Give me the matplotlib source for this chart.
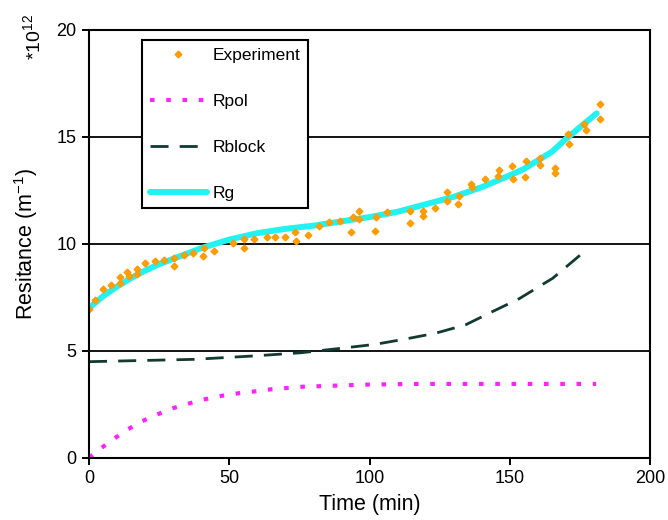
import matplotlib
matplotlib.use("Agg")
import matplotlib.pyplot as plt

plt.rcParams["font.family"] = ["Liberation Sans", "DejaVu Sans"]
plt.rcParams["mathtext.fontset"] = "custom"
plt.rcParams["mathtext.rm"] = "Liberation Sans"
plt.rcParams["mathtext.it"] = "Liberation Sans:italic"

# ---- measured resistance (Experiment) ----
exp_t = [0, 2.2, 5.0, 8.0, 11.0, 11.0, 13.7, 14.3, 17.1, 17.1, 20.0, 23.5, 26.9,
         30.2, 30.2, 34.0, 37.0, 40.6, 40.9, 44.5, 51.3, 55.3, 55.3, 58.8,
         63.4, 66.2, 69.8, 73.8, 73.4, 77.9, 81.9, 85.7, 89.6, 93.4, 94.1,
         96.4, 96.1, 101.8, 102.4, 106.3, 114.3, 114.3, 118.9, 119.2,
         123.3, 127.5, 127.5, 131.9, 131.6, 136.2, 136.4, 141.2, 146.0, 145.7,
         150.7, 151.1, 155.7, 155.5, 160.9, 160.9, 166.2, 166.0, 170.7, 171.0,
         176.6, 177.2, 182.0, 182.0]
exp_r = [6.95, 7.38, 7.88, 8.08, 8.44, 8.19, 8.70, 8.51, 8.83, 8.59, 9.12, 9.21, 9.25,
         8.97, 9.36, 9.48, 9.56, 9.45, 9.79, 9.68, 10.03, 9.79, 10.21, 10.21,
         10.31, 10.31, 10.31, 10.15, 10.54, 10.42, 10.84, 11.01, 11.09, 10.54, 11.24,
         11.55, 11.16, 10.62, 11.24, 11.51, 10.96, 11.55, 11.55, 11.31,
         11.66, 12.44, 12.00, 12.24, 11.87, 12.79, 12.65, 13.02, 13.46, 13.19,
         13.64, 13.02, 13.88, 13.11, 14.03, 13.69, 13.53, 13.33, 15.13, 14.66,
         15.59, 15.33, 16.54, 15.84]

# ---- polarisation resistance ----
pol_t = [0, 6.6, 12.5, 18.5, 23.9, 29.8, 35.8, 41.2, 47.1, 53.1, 59.1, 65.0,
         76.4, 99.6, 117.5, 180.8]
pol_r = [0, 0.67, 1.22, 1.68, 2.00, 2.31, 2.54, 2.73, 2.89, 3.01, 3.10, 3.20,
         3.32, 3.42, 3.45, 3.45]

# ---- pore blocking resistance ----
block_t = [0, 37.6, 59.0, 75.8, 90.1, 102.0, 112.8, 123.5, 134.2, 143.8,
           153.3, 165.3, 176.6]
block_r = [4.49, 4.60, 4.76, 4.91, 5.12, 5.30, 5.55, 5.82, 6.21, 6.83,
           7.43, 8.39, 9.64]

# ---- global resistance (model) ----
rg_t = [0, 5, 10, 15, 20, 25, 30, 35, 40, 45, 50, 55, 60, 70, 80, 90, 100,
        110, 120, 130, 140, 150, 155, 160, 165, 170, 175, 181]
rg_r = [7.0, 7.55, 8.0, 8.4, 8.75, 9.05, 9.3, 9.55, 9.8, 10.0, 10.2, 10.35,
        10.5, 10.7, 10.85, 11.05, 11.25, 11.5, 11.85, 12.2, 12.65, 13.2, 13.5,
        13.9, 14.3, 14.9, 15.45, 16.1]

x_ticks = [0, 50, 100, 150, 200]
y_ticks = [0, 5, 10, 15, 20]

fig = plt.figure(figsize=(6.68, 5.2), dpi=100)
ax = fig.add_axes([89 / 668, 62.3 / 520, 561 / 668, 427.7 / 520])

for yv in y_ticks[1:]:
    ax.axhline(yv, color="black", lw=1.3, zorder=1)

ax.plot(rg_t, rg_r, color="#22f2f2", lw=4.3, solid_capstyle="round",
        label="Rg", zorder=2)
ax.plot(block_t, block_r, color="#123a30", lw=2.0, dashes=(6.5, 4.0),
        label="Rblock", zorder=3)
ax.plot(pol_t, pol_r, color="#ff22ff", lw=3.0, dashes=(1.1, 2.8),
        label="Rpol", zorder=3)
ax.plot(exp_t, exp_r, linestyle="none", marker="D", ms=3.4,
        color="#ffa000", mec="#ff9900", label="Experiment", zorder=4)

ax.set_xlim(0, 200)
ax.set_ylim(0, 20)
ax.set_xticks(x_ticks)
ax.set_yticks(y_ticks)
ax.tick_params(direction="out", length=5, width=1.4, labelsize=13, pad=4)
for sp in ax.spines.values():
    sp.set_linewidth(1.5)
    sp.set_zorder(5)

ax.set_xlabel("Time (min)", fontsize=15.5, labelpad=5)
ax.set_ylabel("Resitance (m$^{-1}$)", fontsize=15.5, labelpad=12)
fig.text(33 / 668, 1 - 37 / 520, "*10$^{12}$", rotation=90, fontsize=14,
         ha="center", va="center")

handles, labels = ax.get_legend_handles_labels()
order = [3, 2, 1, 0]
leg = ax.legend([handles[i] for i in order], [labels[i] for i in order],
                loc="upper left", bbox_to_anchor=(0.0945, 0.9766),
                borderaxespad=0, fontsize=12.5, labelspacing=1.77,
                handlelength=3.3, handletextpad=0.3, borderpad=0.45,
                numpoints=1, fancybox=False, framealpha=1, edgecolor="black")
leg.get_frame().set_linewidth(1.5)

fig.savefig("out.png", dpi=100)
